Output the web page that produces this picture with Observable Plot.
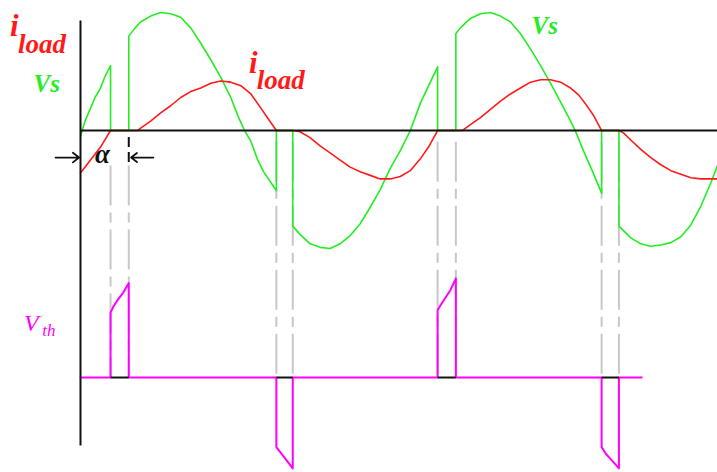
<!DOCTYPE html>
<html><head><meta charset="utf-8">
<script src="https://cdn.jsdelivr.net/npm/d3@7"></script>
<script src="https://cdn.jsdelivr.net/npm/@observablehq/plot@0.6"></script>
<style>html,body{margin:0;padding:0;background:#fff;} #chart{width:717px;height:472px;}</style>
</head><body><div id="chart"></div>
<script>
// Angle ωt in degrees, values normalised to the supply peak
const vsAngle = [0,5,11,16,22,27,33,33,53,53,60,66,77,88,99,110,121,132,143,154,165,173,180,187,194,201,209,215,215,233,233,241,252,263,274,285,296,307,318,329,340,351,362,373,384,392,392,412,412,417,428,439,450,461,472,483,494,505,516,527,538,543,552,560,566,572,572,591,591,604,615,626,637,648,659,670,681,692,699];
const vsValue = [-0.05,0.08,0.19,0.28,0.36,0.46,0.55,0,0,0.80,0.87,0.92,0.97,1.0,0.99,0.96,0.87,0.74,0.60,0.45,0.28,0.12,0,-0.09,-0.24,-0.35,-0.44,-0.51,0,0,-0.81,-0.88,-0.96,-0.99,-1.0,-0.96,-0.89,-0.79,-0.65,-0.50,-0.32,-0.17,0,0.23,0.41,0.54,0,0,0.82,0.87,0.95,0.99,1.0,0.97,0.92,0.82,0.69,0.55,0.40,0.24,0.08,0,-0.17,-0.31,-0.42,-0.53,0,0,-0.81,-0.91,-0.96,-0.98,-0.97,-0.95,-0.90,-0.80,-0.64,-0.44,-0.30];

const iloadAngle = [0,11,22,33,63,66,77,88,99,110,121,132,143,154,165,176,187,198,206,215,233,241,252,263,274,285,296,307,318,329,340,351,362,373,382,392,419,428,439,450,461,472,483,494,505,516,527,538,547,554,563,572,591,596,604,615,626,637,648,659,670,681,699];
const iloadValue = [-0.36,-0.25,-0.14,0,0,0.02,0.08,0.15,0.21,0.28,0.33,0.36,0.40,0.42,0.41,0.38,0.31,0.19,0.10,0,0,-0.01,-0.06,-0.13,-0.19,-0.25,-0.31,-0.35,-0.38,-0.41,-0.41,-0.39,-0.34,-0.24,-0.14,0,0,0.05,0.11,0.18,0.25,0.31,0.36,0.41,0.43,0.43,0.41,0.36,0.30,0.23,0.13,0,0,-0.02,-0.08,-0.16,-0.23,-0.29,-0.34,-0.37,-0.40,-0.41,-0.41];

const vthAngle = [0,33,33,36,41,47,53,53,215,215,221,226,233,233,392,392,395,400,406,412,412,572,572,577,583,591,591,616];
const vthValue = [0,0,0.55,0.60,0.66,0.72,0.80,0,0,-0.59,-0.65,-0.70,-0.77,0,0,0.57,0.61,0.67,0.74,0.84,0,0,-0.59,-0.65,-0.70,-0.77,0,0];

// thyristor off intervals (current extinction -> firing)
const offStart = [33, 215, 392, 572];
const offEnd   = [53, 233, 412, 591];

const vs = vsAngle.map((a, i) => ({a, v: vsValue[i]}));
const iload = iloadAngle.map((a, i) => ({a, v: iloadValue[i]}));
const vth = vthAngle.map((a, i) => ({a, v: vthValue[i]}));
const offs = offStart.map((s, i) => ({s, e: offEnd[i]}));
const gates = offStart.flatMap((s, i) => [s, offEnd[i]]);

const VTH_BASE = -2.093;   // zero line of the lower (thyristor voltage) trace
const serif = "'Liberation Serif', 'Times New Roman', serif";
const lab = (t, x, y, fill, size, extra = {}) =>
  Plot.text([t], {x: () => x, y: () => y, text: d => d, fill, fontSize: size,
    fontWeight: "bold", fontStyle: "italic", fontFamily: serif,
    textAnchor: "start", lineAnchor: "bottom", ...extra});

const chart = Plot.plot({
  width: 717, height: 472, margin: 0,
  x: {domain: [-87.8, 699.2], axis: null},
  y: {domain: [-2.898, 1.102], axis: null},
  style: {background: "white", overflow: "visible"},
  marks: [
    Plot.ruleX(gates, {x: d => d, y1: d => (d < 60 ? -0.30 : -0.10), y2: () => VTH_BASE,
      stroke: "#c8c8c8", strokeWidth: 2, strokeDasharray: "40,7,10,7"}),
    Plot.line(vth, {x: "a", y: d => VTH_BASE + d.v, stroke: "#ff00ff", strokeWidth: 2}),
    Plot.link(offs, {x1: "s", x2: "e", y1: () => VTH_BASE, y2: () => VTH_BASE, stroke: "#111", strokeWidth: 2}),
    Plot.line(vs, {x: "a", y: "v", stroke: "#22ee22", strokeWidth: 1.6}),
    Plot.line(iload, {x: "a", y: "v", stroke: "#ff1a1a", strokeWidth: 1.6}),
    Plot.link([0], {x1: () => 0, x2: () => 699.2, y1: () => 0, y2: () => 0, stroke: "#111", strokeWidth: 2}),
    Plot.link([0], {x1: () => 0, x2: () => 0, y1: () => 0.932, y2: () => -2.669, stroke: "#111", strokeWidth: 2}),
    Plot.ruleX([offEnd[0]], {x: d => d, y1: () => -0.06, y2: () => -0.28, stroke: "#111", strokeWidth: 2, strokeDasharray: "10,5"}),
    Plot.arrow([0], {x1: () => -27.4, x2: () => -1.5, y1: () => -0.229, y2: () => -0.229, stroke: "#111", strokeWidth: 1.8, headLength: 10, headAngle: 75}),
    Plot.arrow([0], {x1: () => 80, x2: () => 55.5, y1: () => -0.229, y2: () => -0.229, stroke: "#111", strokeWidth: 1.8, headLength: 10, headAngle: 75}),
    lab("α", 16, -0.275, "#111", 27),
    lab("i", -77.5, 0.805, "#ff1a1a", 31),
    lab("load", -68.5, 0.653, "#ff1a1a", 27),
    lab("Vs", -51.6, 0.33, "#22ee22", 25),
    lab("i", 185, 0.49, "#ff1a1a", 31),
    lab("load", 193.5, 0.356, "#ff1a1a", 27),
    lab("Vs", 495, 0.822, "#22ee22", 25),
    lab("V", -62, -1.703, "#ff00ff", 24, {fontWeight: "normal"}),
    lab("th", -42, -1.74, "#ff00ff", 17, {fontWeight: "normal"})
  ]
});
document.getElementById("chart").append(chart);
</script>
</body></html>
